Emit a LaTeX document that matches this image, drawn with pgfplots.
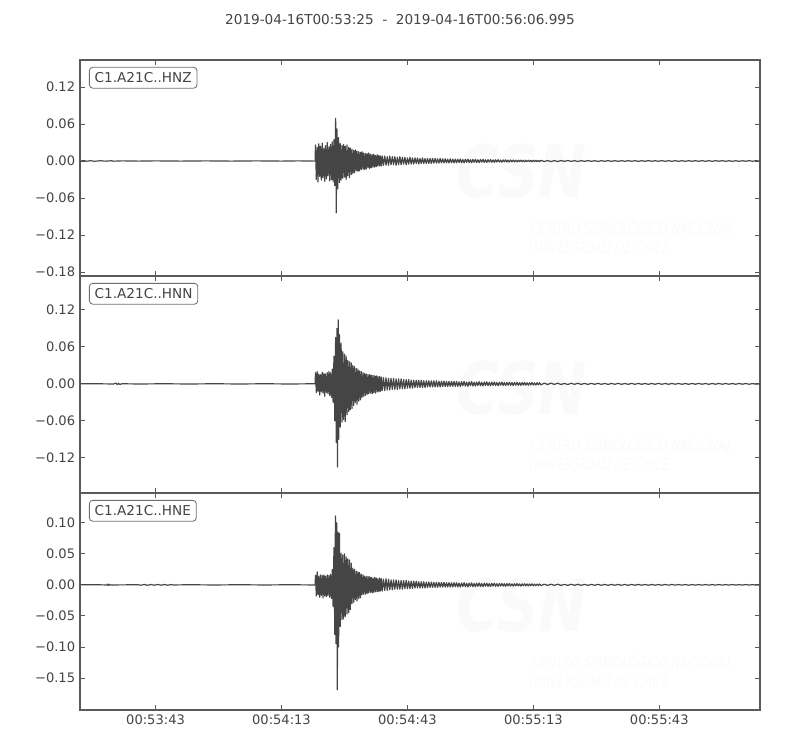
\documentclass[border=0pt]{standalone}
\usepackage{fontspec}
\setmainfont{DejaVu Sans}
\usepackage{pgfplots}
\pgfplotsset{compat=1.18}

\definecolor{trace}{HTML}{454545}
\definecolor{frame}{HTML}{5A5A5A}
\definecolor{boxline}{HTML}{6E6E6E}
\definecolor{txt}{HTML}{444444}
\definecolor{wmark}{HTML}{FAFAFA}
\newcommand{\tickfont}{\fontsize{9.4}{11}\selectfont}
\newcommand{\labfont}{\fontsize{9.8}{11}\selectfont}

\pgfplotsset{
  seis/.style={
    scale only axis, width=489.6pt,
    xmin=0, xmax=161.995,
    axis line style={draw=frame, line width=0.8pt},
    tick style={draw=frame, line width=0.6pt},
    major tick length=3.6pt, tick align=inside,
    xtick pos=both, ytick pos=both,
    xticklabel pos=lower, yticklabel pos=left,
    xtick={18,48,78,108,138},
    scaled y ticks=false,
    ticklabel style={font=\tickfont, text=txt},
    xticklabels={},
    clip=true,
  },
  trace/.style={draw=trace, line width=0.85pt, no markers, line join=round},
}

% faint CSN watermark drawn inside each panel
\newcommand{\csnmark}{%
  \node[text=wmark, font=\bfseries\itshape\fontsize{52}{52}\selectfont, xscale=0.8,
        anchor=base, inner sep=0pt]
    at (rel axis cs:0.65,0.362) {CSN};
  \node[text=wmark, font=\itshape\fontsize{11.5}{12}\selectfont, xscale=0.74,
        anchor=base west, inner sep=0pt]
    at (rel axis cs:0.663,0.192) {CENTRO SISMOLÓGICO NACIONAL};
  \node[text=wmark, font=\itshape\fontsize{11.5}{12}\selectfont, xscale=0.74,
        anchor=base west, inner sep=0pt]
    at (rel axis cs:0.66,0.103) {UNIVERSIDAD DE CHILE};
}
\newcommand{\chan}[1]{%
  \node[draw=boxline, line width=0.6pt, rounded corners=2.4pt, fill=white, text=txt,
        anchor=north west, inner xsep=3.8pt, inner ysep=3.8pt, font=\labfont]
    at (rel axis cs:0.0132,0.968) {#1};
}

\begin{document}
\begin{tikzpicture}
\useasboundingbox (0,0) rectangle (576pt,540pt);

\node[text=txt, font=\labfont] at (288pt,525.6pt)
  {2019-04-16T00:53:25\ \ -\ \ 2019-04-16T00:56:06.995};

% ---------------- HNZ
\begin{axis}[seis, at={(57.6pt,341.28pt)}, anchor=south west, height=155.52pt,
  ymin=-0.1865, ymax=0.1638,
  ytick={-0.18,-0.12,-0.06,0,0.06,0.12},
  yticklabels={−0.18,−0.12,−0.06,0.00,0.06,0.12}]
\csnmark
\addplot[trace] coordinates {
(0,0) (1,0.0005) (1.5,-0.0004) (2.5,0.0004) (3.5,-0.0004) (5,0.0004) (6,-0.0003) (7.5,0.0004) (8,-0.0003)
(10,0.0002) (14,-0.0002) (18,0.0002) (24,-0.0002) (30,0.0002) (36,-0.0002) (42,0.0002) (48,-0.0002) (52,0.0002) (55.9,-0.0002) (56.0,0)
(56.1,0.026) (56.3,-0.030) (56.5,0.022) (56.7,-0.034) (56.9,0.028) (57.1,-0.025) (57.3,0.024) (57.5,-0.031)
(57.7,0.029) (57.9,-0.027) (58.1,0.021) (58.3,-0.033) (58.5,0.025) (58.7,-0.029) (58.9,0.030) (59.1,-0.024)
(59.3,0.023) (59.5,-0.032) (59.7,0.027) (59.9,-0.030) (60.1,0.031) (60.3,-0.034) (60.5,0.035) (60.7,-0.040)
(60.9,0.069) (61.05,-0.084) (61.2,0.052) (61.4,-0.045) (61.6,0.038) (61.8,-0.035) (62.0,0.028) (62.2,-0.031)
(62.4,0.025) (62.6,-0.028) (62.8,0.027) (63.0,-0.026) (63.2,0.024) (63.4,-0.030) (63.6,0.026) (63.8,-0.024)
(64.0,0.022) (64.2,-0.027) (64.4,0.021) (64.6,-0.022) (64.8,0.019) (65.0,-0.020) (65.2,0.017) (65.4,-0.019)
(65.6,0.018) (65.8,-0.016) (66.0,0.016) (66.2,-0.017) (66.4,0.015) (66.6,-0.016) (66.8,0.014) (67.0,-0.014)
(67.2,0.015) (67.4,-0.013) (67.6,0.013) (67.8,-0.014) (68.0,0.012) (68.2,-0.013) (68.4,0.012) (68.6,-0.011)
(68.8,0.013) (69.0,-0.012) (69.2,0.011) (69.4,-0.011) (69.6,0.010) (69.8,-0.010) (70.0,0.011) (70.2,-0.010)
(70.4,0.009) (70.6,-0.009) (70.8,0.010) (71.0,-0.008) (71.2,0.009) (71.4,-0.008) (71.6,0.008) (71.8,-0.008)
(72.0,0.008) (72.3,-0.007) (72.6,0.008) (72.9,-0.007) (73.2,0.007) (73.5,-0.007) (73.8,0.008) (74.1,-0.006)
(74.4,0.007) (74.7,-0.006) (75.0,0.007) (75.3,-0.007) (75.6,0.006) (75.9,-0.006) (76.2,0.007) (76.5,-0.006)
(76.8,0.006) (77.1,-0.005) (77.4,0.006) (77.7,-0.006) (78.0,0.005) (78.3,-0.005) (78.6,0.006) (78.9,-0.005)
(79.2,0.005) (79.5,-0.005) (79.8,0.005) (80.1,-0.004) (80.4,0.005) (80.7,-0.005) (81.0,0.004) (81.3,-0.004)
(81.6,0.005) (81.9,-0.004) (82.2,0.004) (82.5,-0.004) (82.8,0.004) (83.1,-0.004) (83.4,0.004) (83.7,-0.004)
(84.0,0.004) (84.3,-0.0035) (84.6,0.004) (84.9,-0.0035) (85.2,0.0035) (85.5,-0.0035) (85.8,0.004) (86.1,-0.003)
(86.4,0.0035) (86.7,-0.003) (87.0,0.0035) (87.3,-0.003) (87.6,0.003) (87.9,-0.003) (88.2,0.0035) (88.5,-0.003)
(88.8,0.003) (89.1,-0.003) (89.4,0.003) (89.7,-0.003)
(90.0,0.003) (90.3,-0.0025) (90.6,0.0032) (90.9,-0.0028) (91.2,0.0022) (91.5,-0.003) (91.8,0.0027) (92.1,-0.0022)
(92.4,0.003) (92.7,-0.0025) (93.0,0.0021) (93.3,-0.0028) (93.6,0.0026) (93.9,-0.002) (94.2,0.0028) (94.5,-0.0024)
(94.8,0.002) (95.1,-0.0026) (95.4,0.0024) (95.7,-0.0019) (96.0,0.0026) (96.3,-0.0022) (96.6,0.0019) (96.9,-0.0024)
(97.2,0.0022) (97.5,-0.0018) (97.8,0.0023) (98.1,-0.002) (98.4,0.0017) (98.7,-0.0022) (99.0,0.002) (99.3,-0.0016)
(99.6,0.0021) (99.9,-0.0018) (100.2,0.0015) (100.5,-0.002) (100.8,0.0018) (101.1,-0.0014) (101.4,0.0019) (101.7,-0.0016)
(102.0,0.0014) (102.3,-0.0017) (102.6,0.0016) (102.9,-0.0013) (103.2,0.0016) (103.5,-0.0014) (103.8,0.0012) (104.1,-0.0015)
(104.4,0.0014) (104.7,-0.0012) (105.0,0.0014) (105.3,-0.0012) (105.6,0.0011) (105.9,-0.0013) (106.2,0.0012) (106.5,-0.001)
(106.8,0.0012) (107.1,-0.0011) (107.4,0.001) (107.7,-0.0012) (108.0,0.0011) (108.3,-0.0009) (108.6,0.0011) (108.9,-0.001)
(109.2,0.0009) (109.5,-0.0011) (109.8,0.001)
(110.6,-0.0008) (111.4,0.0007) (112.2,-0.0009) (113.0,0.0006) (113.8,-0.0008) (114.6,0.0007) (115.4,-0.0006) (116.2,0.0008)
(117.0,-0.0007) (117.8,0.0006) (118.6,-0.0008) (119.4,0.0006) (120.2,-0.0006) (121.0,0.0007) (121.8,-0.0006) (122.6,0.0005)
(123.4,-0.0007) (124.2,0.0006) (125.0,-0.0005) (125.8,0.0006) (126.6,-0.0006) (127.4,0.0005) (128.2,-0.0006) (129.0,0.0005)
(129.8,-0.0005) (130.6,0.0006) (131.4,-0.0005) (132.2,0.0005) (133.0,-0.0006) (133.8,0.0005) (134.6,-0.0005) (135.4,0.0006)
(136.2,-0.0005) (137.0,0.0005) (137.8,-0.0005) (138.6,0.0006) (139.4,-0.0005) (140.2,0.0005) (141.0,-0.0005) (141.8,0.0005)
(142.6,-0.0006) (143.4,0.0005) (144.2,-0.0005) (145.0,0.0005) (145.8,-0.0005) (146.6,0.0005) (147.4,-0.0005) (148.2,0.0005)
(149.0,-0.0005) (149.8,0.0005) (150.6,-0.0005) (151.4,0.0005) (152.2,-0.0004) (153.0,0.0005) (153.8,-0.0005) (154.6,0.0004)
(155.4,-0.0005) (156.2,0.0004) (157.0,-0.0005) (157.8,0.0004) (158.6,-0.0004) (159.4,0.0005) (160.2,-0.0004) (161.0,0.0004) (162,0)
};
\chan{C1.A21C..HNZ}
\end{axis}

% ---------------- HNN
\begin{axis}[seis, at={(57.6pt,185.04pt)}, anchor=south west, height=156.24pt,
  ymin=-0.177, ymax=0.175,
  ytick={-0.12,-0.06,0,0.06,0.12},
  yticklabels={−0.12,−0.06,0.00,0.06,0.12}]
\csnmark
\addplot[trace] coordinates {
(0,0) (4,0.0002) (8,-0.0002) (8.6,0.0012) (8.9,-0.0012) (9.2,0.001) (9.5,-0.001) (10,0.0002)
(14,-0.0002) (20,0.0002) (26,-0.0002) (32,0.0002) (38,-0.0002) (44,0.0002) (50,-0.0002) (55.9,0.0002) (56.0,0)
(56.1,0.018) (56.3,-0.014) (56.5,0.020) (56.7,-0.012) (56.9,0.016) (57.1,-0.018) (57.3,0.015) (57.5,-0.013)
(57.7,0.019) (57.9,-0.015) (58.1,0.017) (58.3,-0.020) (58.5,0.016) (58.7,-0.014) (58.9,0.018) (59.1,-0.016)
(59.3,0.020) (59.5,-0.019) (59.7,0.018) (59.9,-0.022) (60.1,0.024) (60.3,-0.030) (60.5,0.045) (60.7,-0.060)
(60.9,0.075) (61.05,-0.095) (61.2,0.090) (61.35,-0.135) (61.5,0.104) (61.65,-0.090) (61.8,0.080) (62.0,-0.070)
(62.2,0.066) (62.4,-0.062) (62.6,0.052) (62.8,-0.058) (63.0,0.048) (63.2,-0.061) (63.4,0.045) (63.6,-0.050)
(63.8,0.038) (64.0,-0.045) (64.2,0.036) (64.4,-0.042) (64.6,0.034) (64.8,-0.040) (65.0,0.030) (65.2,-0.035)
(65.4,0.028) (65.6,-0.030) (65.8,0.025) (66.0,-0.033) (66.2,0.024) (66.4,-0.028) (66.6,0.021) (66.8,-0.026)
(67.0,0.020) (67.2,-0.022) (67.4,0.018) (67.6,-0.020) (67.8,0.017) (68.0,-0.019) (68.2,0.016) (68.4,-0.017)
(68.6,0.015) (68.8,-0.016) (69.0,0.015) (69.2,-0.015) (69.4,0.014) (69.6,-0.016) (69.8,0.014) (70.0,-0.014)
(70.2,0.013) (70.4,-0.015) (70.6,0.013) (70.8,-0.013) (71.0,0.012) (71.2,-0.013) (71.4,0.012) (71.6,-0.012)
(71.8,0.011) (72.0,-0.011) (72.3,0.010) (72.6,-0.011) (72.9,0.010) (73.2,-0.010) (73.5,0.009) (73.8,-0.010)
(74.1,0.009) (74.4,-0.009) (74.7,0.009) (75.0,-0.009) (75.3,0.008) (75.6,-0.009) (75.9,0.008) (76.2,-0.008)
(76.5,0.008) (76.8,-0.008) (77.1,0.007) (77.4,-0.008) (77.7,0.007) (78.0,-0.007) (78.3,0.007) (78.6,-0.007)
(78.9,0.006) (79.2,-0.007) (79.5,0.006) (79.8,-0.006) (80.1,0.006) (80.4,-0.006) (80.7,0.006) (81.0,-0.006)
(81.3,0.006) (81.6,-0.006) (81.9,0.005) (82.2,-0.006) (82.5,0.005) (82.8,-0.005) (83.1,0.005) (83.4,-0.005)
(83.7,0.005) (84.0,-0.005) (84.3,0.005) (84.6,-0.005) (84.9,0.005) (85.2,-0.005) (85.5,0.0045) (85.8,-0.005)
(86.1,0.0045) (86.4,-0.0045) (86.7,0.0045) (87.0,-0.0045) (87.3,0.004) (87.6,-0.0045) (87.9,0.004) (88.2,-0.004)
(88.5,0.004) (88.8,-0.004) (89.1,0.004) (89.4,-0.004) (89.7,0.004)
(90.0,-0.004) (90.3,0.0033) (90.6,-0.0042) (90.9,0.0036) (91.2,-0.003) (91.5,0.004) (91.8,-0.0035) (92.1,0.0029)
(92.4,-0.0039) (92.7,0.0033) (93.0,-0.0028) (93.3,0.0037) (93.6,-0.0034) (93.9,0.0027) (94.2,-0.0036) (94.5,0.0031)
(94.8,-0.0027) (95.1,0.0035) (95.4,-0.0031) (95.7,0.0026) (96.0,-0.0034) (96.3,0.003) (96.6,-0.0025) (96.9,0.0033)
(97.2,-0.0029) (97.5,0.0025) (97.8,-0.0032) (98.1,0.0028) (98.4,-0.0024) (98.7,0.0031) (99.0,-0.0027) (99.3,0.0023)
(99.6,-0.003) (99.9,0.0026) (100.2,-0.0022) (100.5,0.0029) (100.8,-0.0025) (101.1,0.0022) (101.4,-0.0028) (101.7,0.0024)
(102.0,-0.0021) (102.3,0.0027) (102.6,-0.0024) (102.9,0.002) (103.2,-0.0026) (103.5,0.0023) (103.8,-0.002) (104.1,0.0025)
(104.4,-0.0022) (104.7,0.0019) (105.0,-0.0024) (105.3,0.0021) (105.6,-0.0018) (105.9,0.0023) (106.2,-0.002) (106.5,0.0018)
(106.8,-0.0022) (107.1,0.0019) (107.4,-0.0017) (107.7,0.0021) (108.0,-0.0019) (108.3,0.0016) (108.6,-0.002) (108.9,0.0018)
(109.2,-0.0016) (109.5,0.0019) (109.8,-0.0017)
(110.6,0.0012) (111.4,-0.0010) (112.2,0.0012) (113.0,-0.0009) (113.8,0.0011) (114.6,-0.0010) (115.4,0.0009) (116.2,-0.0011)
(117.0,0.0010) (117.8,-0.0008) (118.6,0.0010) (119.4,-0.0009) (120.2,0.0008) (121.0,-0.0010) (121.8,0.0009) (122.6,-0.0008)
(123.4,0.0009) (124.2,-0.0008) (125.0,0.0008) (125.8,-0.0009) (126.6,0.0008) (127.4,-0.0007) (128.2,0.0009) (129.0,-0.0008)
(129.8,0.0007) (130.6,-0.0008) (131.4,0.0008) (132.2,-0.0007) (133.0,0.0008) (133.8,-0.0007) (134.6,0.0007) (135.4,-0.0008)
(136.2,0.0007) (137.0,-0.0007) (137.8,0.0008) (138.6,-0.0007) (139.4,0.0007) (140.2,-0.0007) (141.0,0.0007) (141.8,-0.0006)
(142.6,0.0007) (143.4,-0.0007) (144.2,0.0006) (145.0,-0.0007) (145.8,0.0007) (146.6,-0.0006) (147.4,0.0007) (148.2,-0.0006)
(149.0,0.0006) (149.8,-0.0007) (150.6,0.0006) (151.4,-0.0006) (152.2,0.0007) (153.0,-0.0006) (153.8,0.0006) (154.6,-0.0006)
(155.4,0.0006) (156.2,-0.0006) (157.0,0.0006) (157.8,-0.0005) (158.6,0.0006) (159.4,-0.0006) (160.2,0.0005) (161.0,-0.0005) (162,0)
};
\chan{C1.A21C..HNN}
\end{axis}

% ---------------- HNE
\begin{axis}[seis, at={(57.6pt,28.8pt)}, anchor=south west, height=156.24pt,
  ymin=-0.2016, ymax=0.148,
  ytick={-0.15,-0.10,-0.05,0,0.05,0.10},
  yticklabels={−0.15,−0.10,−0.05,0.00,0.05,0.10},
  xticklabels={00:53:43,00:54:13,00:54:43,00:55:13,00:55:43}]
\csnmark
\addplot[trace] coordinates {
(0,0) (4,0.0002) (6.4,-0.0002) (6.6,0.0012) (6.8,-0.0012) (7.0,0.0008) (7.3,-0.0002)
(13.8,0.0002) (14.5,-0.0006) (15.3,0.0006) (16.1,-0.0007) (16.9,0.0006) (17.7,-0.0006) (18.5,0.0007) (19.3,-0.0006)
(20.1,0.0006) (20.9,-0.0006) (21.7,0.0005) (22.2,-0.0002)
(26,0.0002) (32,-0.0002) (38,0.0002) (44,-0.0002) (50,0.0002) (55.9,-0.0002) (56.0,0)
(56.1,0.015) (56.3,-0.018) (56.5,0.021) (56.7,-0.016) (56.9,0.014) (57.1,-0.020) (57.3,0.016) (57.5,-0.017)
(57.7,0.015) (57.9,-0.021) (58.1,0.016) (58.3,-0.018) (58.5,0.014) (58.7,-0.019) (58.9,0.016) (59.1,-0.017)
(59.3,0.015) (59.5,-0.020) (59.7,0.017) (59.9,-0.022) (60.1,0.025) (60.3,-0.035) (60.5,0.060) (60.7,-0.080)
(60.85,0.111) (61.0,-0.095) (61.15,0.100) (61.3,-0.169) (61.45,0.085) (61.6,-0.100) (61.8,0.083) (62.0,-0.067)
(62.2,0.051) (62.4,-0.056) (62.6,0.048) (62.8,-0.055) (63.0,0.050) (63.2,-0.051) (63.4,0.045) (63.6,-0.047)
(63.8,0.042) (64.0,-0.045) (64.2,0.040) (64.4,-0.040) (64.6,0.035) (64.8,-0.030) (65.0,0.027) (65.2,-0.028)
(65.4,0.025) (65.6,-0.024) (65.8,0.022) (66.0,-0.026) (66.2,0.021) (66.4,-0.022) (66.6,0.020) (66.8,-0.021)
(67.0,0.017) (67.2,-0.016) (67.4,0.016) (67.6,-0.015) (67.8,0.014) (68.0,-0.015) (68.2,0.013) (68.4,-0.014)
(68.6,0.014) (68.8,-0.013) (69.0,0.013) (69.2,-0.012) (69.4,0.012) (69.6,-0.013) (69.8,0.011) (70.0,-0.012)
(70.2,0.012) (70.4,-0.011) (70.6,0.011) (70.8,-0.011) (71.0,0.010) (71.2,-0.011) (71.4,0.011) (71.6,-0.010)
(71.8,0.010) (72.0,-0.010) (72.3,0.009) (72.6,-0.009) (72.9,0.010) (73.2,-0.009) (73.5,0.009) (73.8,-0.008)
(74.1,0.008) (74.4,-0.008) (74.7,0.008) (75.0,-0.007) (75.3,0.008) (75.6,-0.007) (75.9,0.007) (76.2,-0.007)
(76.5,0.007) (76.8,-0.007) (77.1,0.007) (77.4,-0.006) (77.7,0.007) (78.0,-0.006) (78.3,0.006) (78.6,-0.006)
(78.9,0.006) (79.2,-0.006) (79.5,0.006) (79.8,-0.005) (80.1,0.006) (80.4,-0.005) (80.7,0.005) (81.0,-0.005)
(81.3,0.005) (81.6,-0.005) (81.9,0.005) (82.2,-0.005) (82.5,0.0045) (82.8,-0.0045) (83.1,0.0045) (83.4,-0.004)
(83.7,0.0045) (84.0,-0.004) (84.3,0.004) (84.6,-0.004) (84.9,0.004) (85.2,-0.004) (85.5,0.004) (85.8,-0.0035)
(86.1,0.004) (86.4,-0.0035) (86.7,0.004) (87.0,-0.0035) (87.3,0.0035) (87.6,-0.0035) (87.9,0.0035) (88.2,-0.0035)
(88.5,0.0035) (88.8,-0.0035) (89.1,0.0035) (89.4,-0.003) (89.7,0.0035)
(90.0,-0.0035) (90.3,0.0029) (90.6,-0.0036) (90.9,0.0031) (91.2,-0.0026) (91.5,0.0035) (91.8,-0.003) (92.1,0.0025)
(92.4,-0.0034) (92.7,0.0029) (93.0,-0.0024) (93.3,0.0032) (93.6,-0.0029) (93.9,0.0023) (94.2,-0.0031) (94.5,0.0027)
(94.8,-0.0023) (95.1,0.003) (95.4,-0.0027) (95.7,0.0022) (96.0,-0.0029) (96.3,0.0026) (96.6,-0.0021) (96.9,0.0028)
(97.2,-0.0025) (97.5,0.0021) (97.8,-0.0027) (98.1,0.0024) (98.4,-0.002) (98.7,0.0026) (99.0,-0.0023) (99.3,0.0019)
(99.6,-0.0025) (99.9,0.0022) (100.2,-0.0019) (100.5,0.0024) (100.8,-0.0021) (101.1,0.0018) (101.4,-0.0023) (101.7,0.002)
(102.0,-0.0017) (102.3,0.0022) (102.6,-0.0019) (102.9,0.0016) (103.2,-0.0021) (103.5,0.0018) (103.8,-0.0016) (104.1,0.002)
(104.4,-0.0017) (104.7,0.0015) (105.0,-0.0019) (105.3,0.0016) (105.6,-0.0014) (105.9,0.0018) (106.2,-0.0015) (106.5,0.0014)
(106.8,-0.0017) (107.1,0.0015) (107.4,-0.0013) (107.7,0.0016) (108.0,-0.0014) (108.3,0.0012) (108.6,-0.0015) (108.9,0.0013)
(109.2,-0.0012) (109.5,0.0014) (109.8,-0.0012)
(110.6,0.0010) (111.4,-0.0009) (112.2,0.0010) (113.0,-0.0008) (113.8,0.0010) (114.6,-0.0009) (115.4,0.0008) (116.2,-0.0009)
(117.0,0.0009) (117.8,-0.0007) (118.6,0.0009) (119.4,-0.0008) (120.2,0.0007) (121.0,-0.0008) (121.8,0.0008) (122.6,-0.0007)
(123.4,0.0008) (124.2,-0.0007) (125.0,0.0007) (125.8,-0.0008) (126.6,0.0007) (127.4,-0.0006) (128.2,0.0007) (129.0,-0.0007)
(129.8,0.0006) (130.6,-0.0007) (131.4,0.0006) (132.2,-0.0006) (133.0,0.0007) (133.8,-0.0006) (134.6,0.0006) (135.4,-0.0006)
(136.2,0.0006) (137.0,-0.0006) (137.8,0.0006) (138.6,-0.0006) (139.4,0.0006) (140.2,-0.0005) (141.0,0.0006) (141.8,-0.0005)
(142.6,0.0006) (143.4,-0.0005) (144.2,0.0005) (145.0,-0.0006) (145.8,0.0005) (146.6,-0.0005) (147.4,0.0005) (148.2,-0.0005)
(149.0,0.0005) (149.8,-0.0005) (150.6,0.0005) (151.4,-0.0005) (152.2,0.0005) (153.0,-0.0005) (153.8,0.0005) (154.6,-0.0004)
(155.4,0.0005) (156.2,-0.0004) (157.0,0.0004) (157.8,-0.0004) (158.6,0.0005) (159.4,-0.0004) (160.2,0.0004) (161.0,-0.0004) (162,0)
};
\chan{C1.A21C..HNE}
\end{axis}
\end{tikzpicture}
\end{document}
